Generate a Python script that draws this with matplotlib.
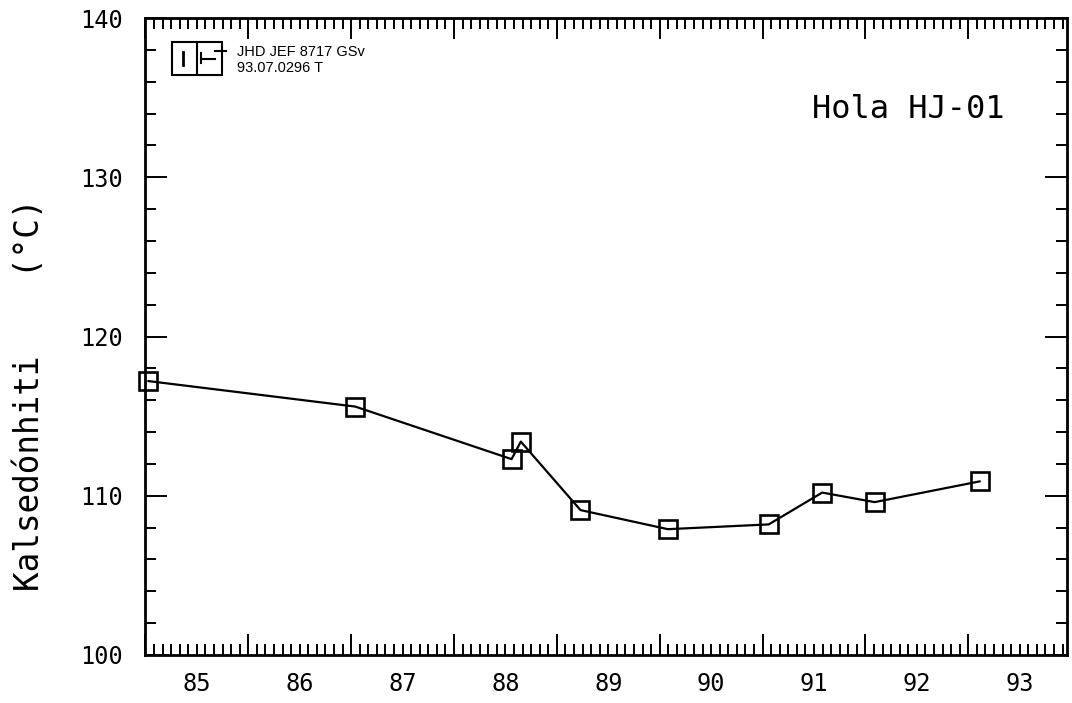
import numpy as np
import matplotlib
matplotlib.use("Agg")
import matplotlib.pyplot as plt
from matplotlib.patches import Rectangle
from matplotlib.ticker import MultipleLocator

# sampling dates (decimal years, 19xx) and chalcedony temperatures
years = [85.03, 87.04, 88.56, 88.65, 89.23, 90.08, 91.06, 91.58, 92.09, 93.11]
temps = [117.2, 115.6, 112.3, 113.4, 109.1, 107.9, 108.2, 110.2, 109.6, 110.9]

year_labels = ["85", "86", "87", "88", "89", "90", "91", "92", "93"]
y_ticks = [100, 110, 120, 130, 140]

well_name = "Hola HJ-01"
stamp_lines = ["JHD JEF 8717 GSv", "93.07.0296 T"]
ylabel = "Kalsedónhiti    (°C)"

mono = "DejaVu Sans Mono"

fig = plt.figure(figsize=(10.72, 7.03), dpi=100)
ax = fig.add_axes([145.4 / 1072, 48 / 703, 921.6 / 1072, 637 / 703])

ax.plot(years, temps, color="black", lw=1.6, marker="s", ms=12.5,
        mfc="none", mec="black", mew=1.9, clip_on=False, zorder=3)

ax.set_xlim(85, 93.96)
ax.set_ylim(100, 140)

# year boundaries as long ticks, months as short ones
ax.xaxis.set_major_locator(MultipleLocator(1))
ax.xaxis.set_minor_locator(MultipleLocator(1 / 12))
ax.set_xticklabels([])
ax.set_yticks(y_ticks)
ax.yaxis.set_minor_locator(MultipleLocator(2))
ax.set_yticklabels([str(v) for v in y_ticks], family=mono, fontsize=17)

ax.tick_params(which="both", direction="in", top=True, right=True,
               width=1.4, color="black")
ax.tick_params(axis="x", which="major", length=15)
ax.tick_params(axis="x", which="minor", length=8)
ax.tick_params(axis="y", which="major", length=16, pad=16)
ax.tick_params(axis="y", which="minor", length=8)

for s in ax.spines.values():
    s.set_linewidth(2)

# year labels centred inside each year
for i, lab in enumerate(year_labels):
    ax.text(85.5 + i, -0.026, lab, transform=ax.get_xaxis_transform(),
            ha="center", va="top", family=mono, fontsize=17)

fig.text(30 / 1072, 1 - 395 / 703, ylabel, rotation=90, ha="center",
         va="center", family=mono, fontsize=23.5)

ax.text(0.723, 0.856, well_name, transform=ax.transAxes, ha="left",
        va="center", family=mono, fontsize=23)

# office stamp / logo in the upper left corner
ax.add_patch(Rectangle((0.0288, 0.910), 0.0543, 0.052, transform=ax.transAxes,
                       fill=False, lw=1.5, ec="black"))
ax.plot([0.056, 0.056], [0.910, 0.962], transform=ax.transAxes, color="black", lw=1.5)
ax.plot([0.0408, 0.0408], [0.926, 0.946], transform=ax.transAxes, color="black", lw=2)
ax.plot([0.060, 0.060], [0.945, 0.930], transform=ax.transAxes, color="black", lw=1.5)
ax.plot([0.060, 0.076], [0.936, 0.936], transform=ax.transAxes, color="black", lw=1.5)
ax.plot([0.076, 0.087], [0.948, 0.948], transform=ax.transAxes, color="black", lw=1.5,
        clip_on=False)

ax.text(0.0994, 0.947, stamp_lines[0], transform=ax.transAxes, ha="left",
        va="center", family="Liberation Sans", fontsize=10.5)
ax.text(0.0994, 0.921, stamp_lines[1], transform=ax.transAxes, ha="left",
        va="center", family="Liberation Sans", fontsize=10.5)

fig.savefig("out.png", dpi=100)
